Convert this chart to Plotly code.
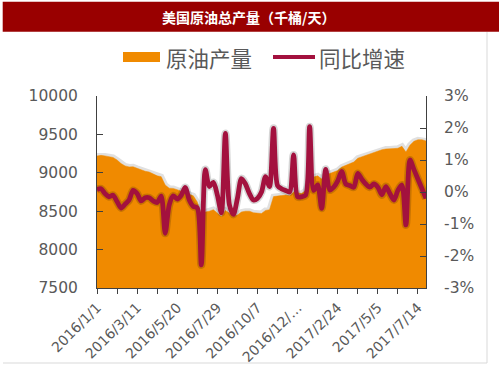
import plotly.graph_objects as go
import pandas as pd

# ---- data -------------------------------------------------------------
weeks = pd.date_range("2016-01-01", periods=83, freq="7D")
dates = [f"{d.year}/{d.month}/{d.day}" for d in weeks]

# 原油产量 (千桶/天)
production = [
    9219, 9227, 9220, 9210, 9200, 9167, 9120, 9090, 9077, 9078,
    9058, 9040, 9020, 9010, 8985, 8960, 8950, 8840, 8800, 8797,
    8780, 8760, 8740, 8720, 8700, 8620, 8450, 8490, 8500, 8520,
    8480, 8430, 8510, 8470, 8440, 8450, 8490, 8500, 8500, 8480,
    8470, 8470, 8510, 8520, 8690, 8700, 8705, 8710, 8700, 8750,
    8735, 8730, 8770, 8940, 8945, 8960, 8920, 8980, 8990, 9010,
    9030, 9075, 9100, 9120, 9140, 9190, 9210, 9230, 9250, 9270,
    9285, 9300, 9310, 9310, 9315, 9320, 9345, 9270, 9360, 9410,
    9430, 9430, 9415,
]

# 同比增速 (%)
growth = [
    0.08, 0.10, -0.05, -0.15, -0.10, -0.30, -0.50, -0.38, -0.25, 0.05,
    -0.05, -0.28, -0.18, -0.18, -0.28, -0.33, -0.13, -1.29, -0.40, -0.12,
    -0.22, -0.10, 0.14, -0.25, -0.45, -0.50, -2.28, 0.70, 0.17, 0.30,
    -0.10, -0.65, 1.83, -0.40, -0.70, -0.20, 0.42, 0.25, -0.05, -0.25,
    -0.20, 0.00, 0.48, 0.17, 1.99, 0.20, 0.10, 0.05, 0.00, 1.16,
    -0.15, -0.15, -0.10, 2.04, 0.05, 0.22, -0.51, 0.71, 0.06, 0.15,
    0.35, 0.64, 0.25, 0.20, 0.15, 0.58, 0.40, 0.25, 0.15, 0.25,
    0.15, -0.09, 0.17, -0.05, -0.25, 0.05, 0.22, -1.03, 1.00, 0.70,
    0.40, 0.10, -0.20,
]

x_labels = ["2016/1/1", "2016/3/11", "2016/5/20", "2016/7/29", "2016/10/7",
            "2016/12/…", "2017/2/24", "2017/5/5", "2017/7/14"]
left_ticks = [7500, 8000, 8500, 9000, 9500, 10000]
left_labels = ["7500", "8000", "8500", "9000", "9500", "10000"]
right_ticks = [-3, -2, -1, 0, 1, 2, 3]
right_labels = ["-3%", "-2%", "-1%", "0%", "1%", "2%", "3%"]

title = "美国原油总产量（千桶/天）"
name_area = "原油产量"
name_line = "同比增速"

# ---- style -------------------------------------------------------------
W, H = 503, 378
ML, MR, MT, MB = 97, 77, 96, 90
PW, PH = W - ML - MR, H - MT - MB
ORANGE = "#F08A00"
CRIMSON = "#A3113E"
GRAY_TXT = "#595959"
AXIS = "#404040"
NUM_FONT = "DejaVu Sans"
CJK_FONT = "Noto Sans CJK SC"


def px(xp):
    return (xp - ML) / PW


def py(yp):
    return (H - MB - yp) / PH


tickvals = dates[::5]
ticktext = []
lab_iter = iter(x_labels)
for k in range(len(tickvals)):
    ticktext.append(next(lab_iter) if k % 2 == 0 else "")

fig = go.Figure()

# soft glow above area edge
fig.add_trace(go.Scatter(x=dates, y=production, mode="lines",
                         line=dict(color="rgba(0,0,0,0.12)", width=6),
                         hoverinfo="skip", showlegend=False))
fig.add_trace(go.Scatter(x=dates, y=production, name=name_area, mode="lines",
                         fill="tozeroy", fillcolor=ORANGE,
                         line=dict(color=ORANGE, width=0.5),
                         showlegend=False))
# shadow under the line
fig.add_trace(go.Scatter(x=dates, y=growth, yaxis="y2", mode="lines",
                         line=dict(color="rgba(0,0,0,0.16)", width=8,
                                   shape="spline", smoothing=0.8),
                         hoverinfo="skip", showlegend=False))
fig.add_trace(go.Scatter(x=dates, y=growth, yaxis="y2", name=name_line,
                         mode="lines",
                         line=dict(color=CRIMSON, width=4.8,
                                   shape="spline", smoothing=0.8),
                         showlegend=False))

shapes = [
    # title bar
    dict(type="rect", xref="paper", yref="paper",
         x0=px(2.7), x1=px(499), y0=py(31.7), y1=py(1.7),
         fillcolor="#990000", line=dict(width=0), layer="below"),
    # chart border (right & bottom)
    dict(type="line", xref="paper", yref="paper",
         x0=px(487), x1=px(487), y0=py(32), y1=py(363),
         line=dict(color="#D9D9D9", width=1)),
    dict(type="line", xref="paper", yref="paper",
         x0=px(3), x1=px(487), y0=py(363), y1=py(363),
         line=dict(color="#D9D9D9", width=1)),
    # legend markers
    dict(type="rect", xref="paper", yref="paper",
         x0=px(123), x1=px(160), y0=py(62), y1=py(52),
         fillcolor=ORANGE, line=dict(width=0)),
    dict(type="line", xref="paper", yref="paper",
         x0=px(273), x1=px(315), y0=py(57), y1=py(57),
         line=dict(color=CRIMSON, width=4)),
]

annotations = [
    dict(text=f"<b>{title}</b>", xref="paper", yref="paper",
         x=px(248), y=py(17), xanchor="center", yanchor="middle",
         showarrow=False, font=dict(family=CJK_FONT, size=14, color="white")),
    dict(text=name_area, xref="paper", yref="paper",
         x=px(164), y=py(57), xanchor="left", yanchor="middle",
         showarrow=False, font=dict(family=CJK_FONT, size=21.5, color=GRAY_TXT)),
    dict(text=name_line, xref="paper", yref="paper",
         x=px(317), y=py(57), xanchor="left", yanchor="middle",
         showarrow=False, font=dict(family=CJK_FONT, size=21.5, color=GRAY_TXT)),
]

fig.update_layout(
    width=W, height=H,
    margin=dict(l=ML, r=MR, t=MT, b=MB, pad=0),
    paper_bgcolor="white", plot_bgcolor="white",
    showlegend=False,
    shapes=shapes, annotations=annotations,
    xaxis=dict(type="category", range=[0, len(dates) - 1],
               tickmode="array", tickvals=tickvals, ticktext=ticktext,
               tickangle=-45, ticks="outside", ticklen=5, tickcolor=AXIS,
               showline=True, linecolor=AXIS, linewidth=1,
               showgrid=False, zeroline=False, automargin=False,
               tickfont=dict(family=NUM_FONT, size=14, color=GRAY_TXT)),
    yaxis=dict(range=[7500, 10000], tickmode="array", tickvals=left_ticks,
               ticktext=left_labels,
               ticks="inside", ticklen=6, tickcolor=AXIS,
               showline=True, linecolor=AXIS, linewidth=1,
               showgrid=False, zeroline=False, ticklabelstandoff=15,
               automargin=False,
               tickfont=dict(family=NUM_FONT, size=15.5, color=GRAY_TXT)),
    yaxis2=dict(range=[-3, 3], overlaying="y", side="right",
                tickmode="array", tickvals=right_ticks, ticktext=right_labels,
                ticks="inside", ticklen=6, tickcolor=AXIS,
                showline=True, linecolor=AXIS, linewidth=1,
                showgrid=False, zeroline=False, ticklabelstandoff=14,
                automargin=False,
                tickfont=dict(family=NUM_FONT, size=15.5, color=GRAY_TXT)),
)

fig.write_html("out.html", config={"displayModeBar": False},
               post_script="document.body.style.margin='0';")
